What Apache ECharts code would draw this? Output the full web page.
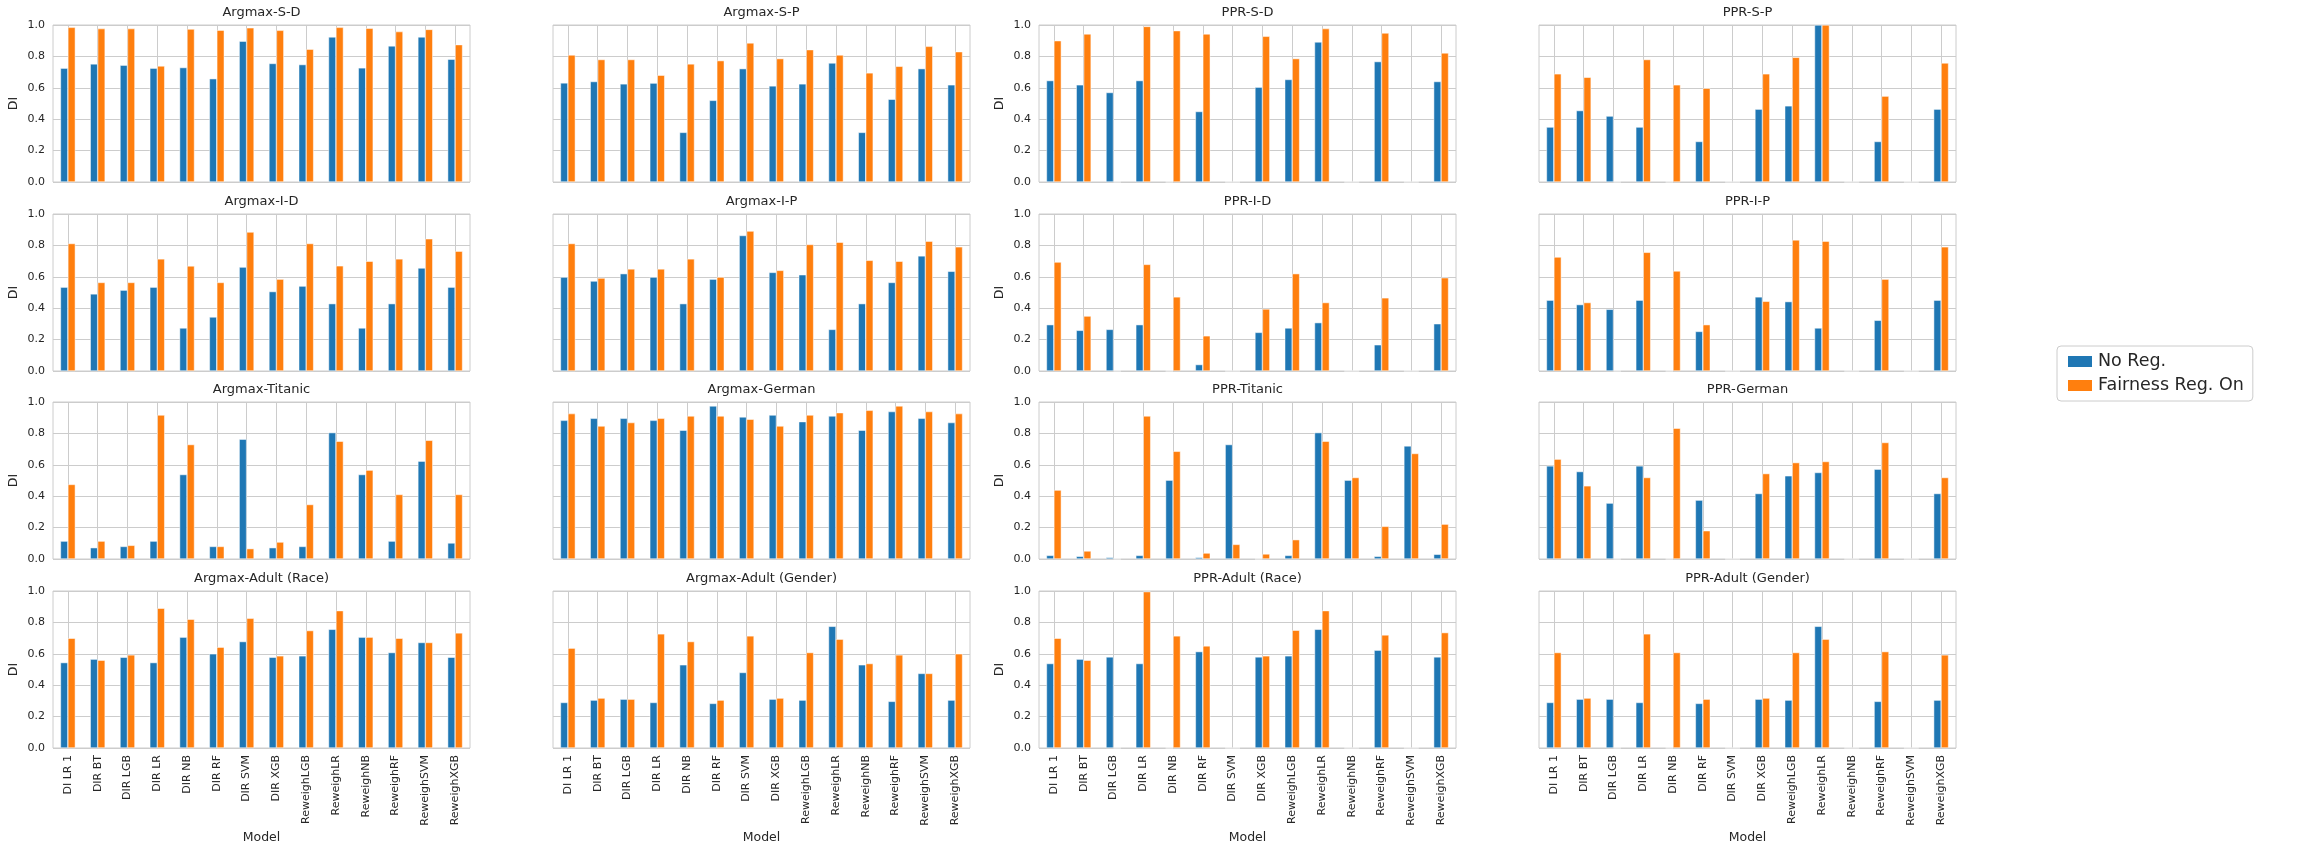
<!DOCTYPE html>
<html>
<head>
<meta charset="utf-8">
<script src="https://cdn.jsdelivr.net/npm/echarts@6/dist/echarts.min.js"></script>
<style>
html,body{margin:0;padding:0;background:#fff;}
#chart{width:2324px;height:853px;}
</style>
</head>
<body>
<div id="chart"></div>
<script>
const categories = ['DI LR 1','DIR BT','DIR LGB','DIR LR','DIR NB','DIR RF','DIR SVM','DIR XGB','ReweighLGB','ReweighLR','ReweighNB','ReweighRF','ReweighSVM','ReweighXGB'];
const seriesNames = ['No Reg.', 'Fairness Reg. On'];
const yTicks = [0, 0.2, 0.4, 0.6, 0.8, 1.0];

const argmaxSD_noReg = [0.725,0.752,0.744,0.725,0.729,0.658,0.897,0.755,0.748,0.924,0.727,0.867,0.924,0.782];
const argmaxSD_fair  = [0.985,0.977,0.977,0.739,0.974,0.967,0.982,0.966,0.846,0.985,0.979,0.958,0.972,0.875];
const argmaxSP_noReg = [0.631,0.640,0.625,0.630,0.316,0.520,0.722,0.612,0.625,0.758,0.316,0.527,0.722,0.619];
const argmaxSP_fair  = [0.809,0.780,0.780,0.680,0.752,0.773,0.886,0.786,0.843,0.809,0.695,0.737,0.864,0.830];
const pprSD_noReg = [0.646,0.619,0.570,0.646,0,0.449,0,0.604,0.653,0.892,0,0.767,0,0.640];
const pprSD_fair  = [0.900,0.943,0,0.991,0.964,0.943,0,0.928,0.786,0.977,0,0.949,0,0.822];
const pprSP_noReg = [0.350,0.455,0.420,0.350,0,0.258,0,0.464,0.485,1.000,0,0.258,0,0.464];
const pprSP_fair  = [0.689,0.667,0,0.780,0.619,0.597,0,0.689,0.794,1.000,0,0.547,0,0.758];

const argmaxID_noReg = [0.534,0.491,0.515,0.534,0.274,0.344,0.662,0.506,0.541,0.429,0.274,0.429,0.656,0.534];
const argmaxID_fair  = [0.812,0.564,0.564,0.714,0.669,0.564,0.885,0.585,0.812,0.670,0.699,0.714,0.842,0.763];
const argmaxIP_noReg = [0.598,0.573,0.620,0.598,0.429,0.585,0.863,0.628,0.613,0.265,0.429,0.564,0.733,0.635];
const argmaxIP_fair  = [0.812,0.592,0.650,0.650,0.714,0.598,0.891,0.641,0.806,0.820,0.705,0.699,0.827,0.791];
const pprID_noReg = [0.295,0.259,0.265,0.295,0,0.041,0,0.246,0.274,0.308,0,0.167,0,0.301];
const pprID_fair  = [0.694,0.350,0,0.679,0.472,0.224,0,0.395,0.620,0.436,0,0.466,0,0.594];
const pprIP_noReg = [0.451,0.423,0.393,0.451,0,0.252,0,0.472,0.442,0.274,0,0.323,0,0.451];
const pprIP_fair  = [0.726,0.436,0,0.756,0.637,0.295,0,0.444,0.835,0.827,0,0.585,0,0.791];

const argmaxTitanic_noReg = [0.114,0.072,0.080,0.114,0.538,0.080,0.763,0.072,0.080,0.805,0.538,0.114,0.623,0.102];
const argmaxTitanic_fair  = [0.475,0.114,0.087,0.917,0.729,0.080,0.066,0.108,0.347,0.750,0.566,0.411,0.756,0.411];
const argmaxGerman_noReg = [0.883,0.896,0.896,0.883,0.820,0.975,0.905,0.917,0.875,0.911,0.820,0.939,0.896,0.869];
const argmaxGerman_fair  = [0.926,0.847,0.869,0.896,0.911,0.911,0.890,0.847,0.917,0.932,0.947,0.975,0.939,0.926];
const pprTitanic_noReg = [0.023,0.017,0.010,0.023,0.502,0.010,0.729,0,0.023,0.805,0.502,0.017,0.720,0.030];
const pprTitanic_fair  = [0.439,0.051,0,0.911,0.686,0.038,0.093,0.032,0.123,0.750,0.519,0.208,0.672,0.222];
const pprGerman_noReg = [0.593,0.557,0.356,0.593,0,0.375,0,0.417,0.530,0.551,0,0.572,0,0.417];
const pprGerman_fair  = [0.636,0.466,0,0.519,0.833,0.180,0,0.544,0.614,0.621,0,0.742,0,0.519];

const argmaxAdultRace_noReg = [0.544,0.566,0.578,0.544,0.706,0.600,0.678,0.578,0.587,0.756,0.706,0.608,0.672,0.578];
const argmaxAdultRace_fair  = [0.699,0.559,0.593,0.890,0.820,0.642,0.826,0.587,0.748,0.875,0.706,0.699,0.672,0.733];
const argmaxAdultGender_noReg = [0.290,0.305,0.311,0.290,0.530,0.284,0.481,0.311,0.305,0.775,0.530,0.297,0.475,0.305];
const argmaxAdultGender_fair  = [0.636,0.318,0.311,0.727,0.678,0.305,0.714,0.318,0.608,0.693,0.538,0.593,0.475,0.600];
const pprAdultRace_noReg = [0.538,0.566,0.580,0.538,0,0.614,0,0.580,0.587,0.756,0,0.623,0,0.580];
const pprAdultRace_fair  = [0.699,0.559,0,0.996,0.714,0.650,0,0.587,0.750,0.875,0,0.720,0,0.735];
const pprAdultGender_noReg = [0.290,0.311,0.311,0.290,0,0.284,0,0.311,0.305,0.775,0,0.297,0,0.305];
const pprAdultGender_fair  = [0.608,0.318,0,0.727,0.608,0.311,0,0.318,0.608,0.693,0,0.614,0,0.593];

const panelTitles = ['Argmax-S-D','Argmax-S-P','PPR-S-D','PPR-S-P',
  'Argmax-I-D','Argmax-I-P','PPR-I-D','PPR-I-P',
  'Argmax-Titanic','Argmax-German','PPR-Titanic','PPR-German',
  'Argmax-Adult (Race)','Argmax-Adult (Gender)','PPR-Adult (Race)','PPR-Adult (Gender)'];
const panelNoReg = [argmaxSD_noReg, argmaxSP_noReg, pprSD_noReg, pprSP_noReg,
  argmaxID_noReg, argmaxIP_noReg, pprID_noReg, pprIP_noReg,
  argmaxTitanic_noReg, argmaxGerman_noReg, pprTitanic_noReg, pprGerman_noReg,
  argmaxAdultRace_noReg, argmaxAdultGender_noReg, pprAdultRace_noReg, pprAdultGender_noReg];
const panelFair = [argmaxSD_fair, argmaxSP_fair, pprSD_fair, pprSP_fair,
  argmaxID_fair, argmaxIP_fair, pprID_fair, pprIP_fair,
  argmaxTitanic_fair, argmaxGerman_fair, pprTitanic_fair, pprGerman_fair,
  argmaxAdultRace_fair, argmaxAdultGender_fair, pprAdultRace_fair, pprAdultGender_fair];

// layout
const colLeft = [53, 553, 1039, 1539];
const rowTop = [25, 214, 402, 591];
const plotW = 417, plotH = 157;
const FONT = 'DejaVu Sans';
const TXT = '#262626';
const GRIDC = '#cccccc';
const colors = ['#1f77b4', '#ff7f0e'];

const grids = [], xAxes = [], yAxes = [], series = [], titles = [];
for (let i = 0; i < 16; i++) {
  const r = Math.floor(i / 4), c = i % 4;
  const showY = (c === 0 || c === 2);
  const bottom = (r === 3);
  grids.push({left: colLeft[c], top: rowTop[r], width: plotW, height: plotH,
    show: true, borderColor: GRIDC, borderWidth: 1, backgroundColor: '#fff', containLabel: false});
  xAxes.push({type: 'category', gridIndex: i, data: categories,
    boundaryGap: true,
    axisLine: {show: false}, axisTick: {show: false, alignWithLabel: true},
    splitLine: {show: true, alignWithLabel: true, lineStyle: {color: GRIDC, width: 1}},
    axisLabel: {show: bottom, rotate: 90, interval: 0, fontSize: 11, color: TXT, fontFamily: FONT, margin: 7},
    name: bottom ? 'Model' : '', nameLocation: 'middle', nameGap: 83,
    nameTextStyle: {fontSize: 12.5, color: TXT, fontFamily: FONT}
  });
  yAxes.push({type: 'value', gridIndex: i, min: 0, max: 1, interval: 0.2,
    axisLine: {show: false}, axisTick: {show: false},
    splitLine: {show: true, lineStyle: {color: GRIDC, width: 1}},
    axisLabel: {show: showY, fontSize: 11, color: TXT, fontFamily: FONT, margin: 8,
      formatter: v => v.toFixed(1)},
    name: showY ? 'DI' : '', nameLocation: 'middle', nameGap: 33, nameRotate: 90,
    nameTextStyle: {fontSize: 12.5, color: TXT, fontFamily: FONT}
  });
  titles.push({text: panelTitles[i], left: colLeft[c] + plotW / 2, top: rowTop[r] - 19,
    textAlign: 'center', padding: 0,
    textStyle: {fontSize: 13, fontWeight: 'normal', color: TXT, fontFamily: FONT}});
  [panelNoReg[i], panelFair[i]].forEach((vals, k) => {
    series.push({type: 'bar', name: seriesNames[k], xAxisIndex: i, yAxisIndex: i,
      data: vals, barWidth: '25%', barGap: '0%',
      itemStyle: {color: colors[k], borderColor: '#ffffff', borderWidth: 0.5},
      emphasis: {disabled: true}, animation: false});
  });
}

const chart = echarts.init(document.getElementById('chart'), null, {renderer: 'canvas'});
chart.setOption({
  animation: false,
  backgroundColor: '#ffffff',
  title: titles,
  grid: grids,
  xAxis: xAxes,
  yAxis: yAxes,
  legend: {
    data: seriesNames, orient: 'vertical', left: 2057, top: 346,
    icon: 'rect', itemWidth: 26, itemHeight: 13, itemGap: 3,
    padding: [5, 9], backgroundColor: 'rgba(255,255,255,0.8)',
    borderColor: GRIDC, borderWidth: 1, borderRadius: 4,
    textStyle: {fontSize: 17.5, color: TXT, fontFamily: FONT, lineHeight: 21}
  },
  series: series
});
</script>
</body>
</html>
